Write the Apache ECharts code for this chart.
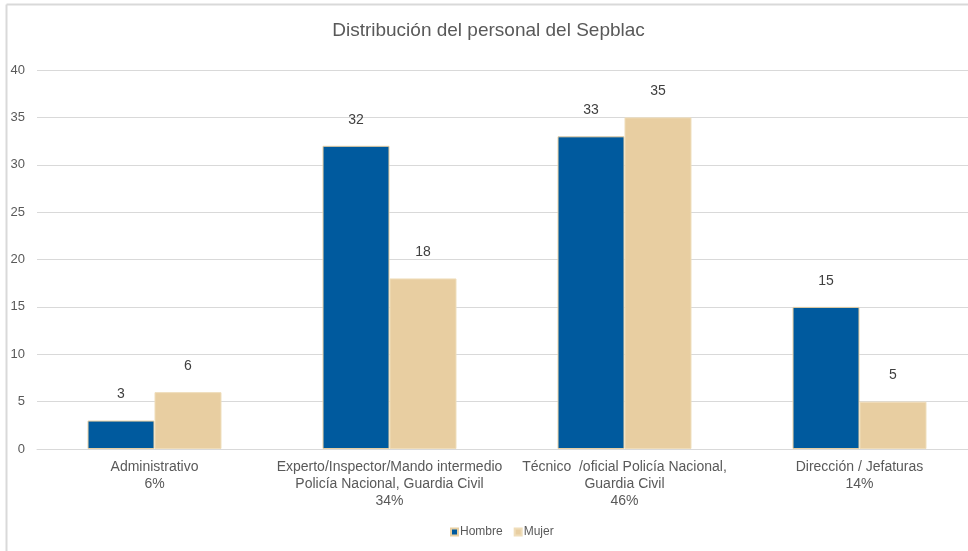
<!DOCTYPE html>
<html>
<head>
<meta charset="utf-8">
<script src="https://cdn.jsdelivr.net/npm/echarts@6/dist/echarts.min.js"></script>
<style>html,body{margin:0;padding:0;background:#fff;overflow:hidden;width:968px;height:551px}#c{width:977px;height:551px}</style>
</head>
<body>
<div id="c"></div>
<script>
const categories = [
  'Administrativo\n6%',
  'Experto/Inspector/Mando intermedio\nPolicía Nacional, Guardia Civil\n34%',
  'Técnico  /oficial Policía Nacional,\nGuardia Civil\n46%',
  'Dirección / Jefaturas\n14%'
];
const hombre = [3, 32, 33, 15];
const mujer = [6, 18, 35, 5];
const yTicks = [0, 5, 10, 15, 20, 25, 30, 35, 40];

const chart = echarts.init(document.getElementById('c'), null, {renderer: 'canvas'});
const font = 'Liberation Sans, Arial, sans-serif';
const labelOpt = {show: true, position: 'top', distance: 19, color: '#404040', fontSize: 14, fontFamily: font};
chart.setOption({
  animation: false,
  title: {
    text: 'Distribución del personal del Sepblac',
    left: 'center', top: 16,
    textStyle: {color: '#595959', fontSize: 19, fontWeight: 'normal', fontFamily: font}
  },
  graphic: [
    {type: 'line', shape: {x1: 6.5, y1: 4.5, x2: 977, y2: 4.5}, style: {stroke: '#d9d9d9', lineWidth: 2}},
    {type: 'line', shape: {x1: 6.5, y1: 4.5, x2: 6.5, y2: 551}, style: {stroke: '#d9d9d9', lineWidth: 2}}
  ],
  legend: {
    bottom: 8, left: 445,
    itemWidth: 7, itemHeight: 7, itemGap: 11,
    icon: 'rect',
    textStyle: {color: '#595959', fontSize: 12, fontFamily: font, padding: [0, 0, 0, -3]},
    data: ['Hombre', 'Mujer']
  },
  grid: {left: 37, top: 70, right: 0, bottom: 102, containLabel: false},
  xAxis: {
    type: 'category', data: categories,
    axisLine: {show: true, lineStyle: {color: '#d9d9d9'}},
    axisTick: {show: false},
    axisLabel: {color: '#595959', fontSize: 14, fontFamily: font, lineHeight: 17, margin: 10, interval: 0}
  },
  yAxis: {
    type: 'value', min: 0, max: 40, interval: 5,
    axisLine: {show: false}, axisTick: {show: false},
    splitLine: {lineStyle: {color: '#d9d9d9', width: 1}},
    axisLabel: {color: '#595959', fontSize: 13, fontFamily: font, margin: 12,
      formatter: v => yTicks.includes(v) ? String(v) : ''}
  },
  series: [
    {name: 'Hombre', type: 'bar', data: hombre, barGap: '0%', barCategoryGap: '43%',
     itemStyle: {color: '#005A9E', borderColor: '#E8CFA2', borderWidth: 1}, label: labelOpt},
    {name: 'Mujer', type: 'bar', data: mujer,
     itemStyle: {color: '#E8CEA1', borderColor: '#EFDDBA', borderWidth: 1}, label: labelOpt}
  ]
});
</script>
</body>
</html>
